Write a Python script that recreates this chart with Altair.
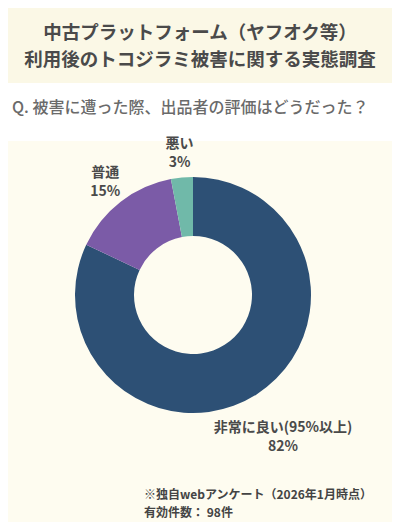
"""
Donut chart — bed bug survey, seller rating.
"""

import altair as alt
import pandas as pd

categories = ["非常に良い(95%以上)", "普通", "悪い"]
values = [82, 15, 3]
colors = ["#2d5075", "#7b5ba7", "#70b9a9"]

title_lines = ["中古プラットフォーム（ヤフオク等）", "利用後のトコジラミ被害に関する実態調査"]
question = "Q. 被害に遭った際、出品者の評価はどうだった？"
notes = ["※独自webアンケート（2026年1月時点）", "有効件数： 98件"]

FONT = "Noto Sans CJK JP"
W, H = 384, 514
CX, CY = 185, 287

df = pd.DataFrame({"cat": categories, "value": values, "rank": range(len(values))})
one = pd.DataFrame({"a": [0]})

banner = alt.Chart(one).mark_rect(color="#fbf8e6").encode(
    x=alt.value(0), x2=alt.value(W), y=alt.value(0), y2=alt.value(75)
)
band = alt.Chart(one).mark_rect(color="#ffffff").encode(
    x=alt.value(0), x2=alt.value(W), y=alt.value(75), y2=alt.value(133)
)

title = alt.Chart(one).mark_text(
    text=title_lines, font=FONT, fontSize=18.5, fontWeight="bold",
    color="#4a4a4a", align="center", baseline="middle", lineHeight=27,
).encode(x=alt.value(192), y=alt.value(25))

q = alt.Chart(one).mark_text(
    text=question, font=FONT, fontSize=16, fontWeight=500,
    color="#6a6a6a", align="left", baseline="middle",
).encode(x=alt.value(4), y=alt.value(100))

note_style = dict(
    font=FONT, fontSize=12, fontWeight="bold",
    color="#444444", align="left", baseline="middle",
)
note1 = alt.Chart(one).mark_text(text=notes[0], **note_style).encode(
    x=alt.value(136), y=alt.value(487)
)
note2 = alt.Chart(one).mark_text(text=notes[1], **note_style).encode(
    x=alt.value(136), y=alt.value(505)
)

base = alt.Chart(df).encode(
    theta=alt.Theta("value:Q", stack=True),
    order=alt.Order("rank:Q"),
    x=alt.value(CX),
    y=alt.value(CY),
)

arcs = base.mark_arc(radius=118, innerRadius=59).encode(
    color=alt.Color(
        "cat:N",
        scale=alt.Scale(domain=categories, range=colors),
        legend=None,
    ),
)

labels = base.transform_calculate(
    label="datum.cat + '|' + datum.value + '%'"
)
label_style = dict(
    font=FONT, fontSize=14, fontWeight="bold", color="#4a4a4a",
    lineBreak="|", lineHeight=19, align="center", baseline="middle", dy=-9,
)
small_labels = labels.mark_text(radius=143, **label_style).encode(
    text="label:N",
    opacity=alt.condition(alt.datum.value < 50, alt.value(1), alt.value(0)),
)
big_labels = labels.mark_text(radius=168, **label_style).encode(
    text="label:N",
    opacity=alt.condition(alt.datum.value >= 50, alt.value(1), alt.value(0)),
)

chart = (
    alt.layer(banner, band, title, q, arcs, small_labels, big_labels, note1, note2)
    .properties(width=W, height=H, autosize="none", padding=0, background="#fefcf0")
    .configure_view(strokeWidth=0)
)

chart.save("out.html", embed_options={"renderer": "svg", "actions": False})
